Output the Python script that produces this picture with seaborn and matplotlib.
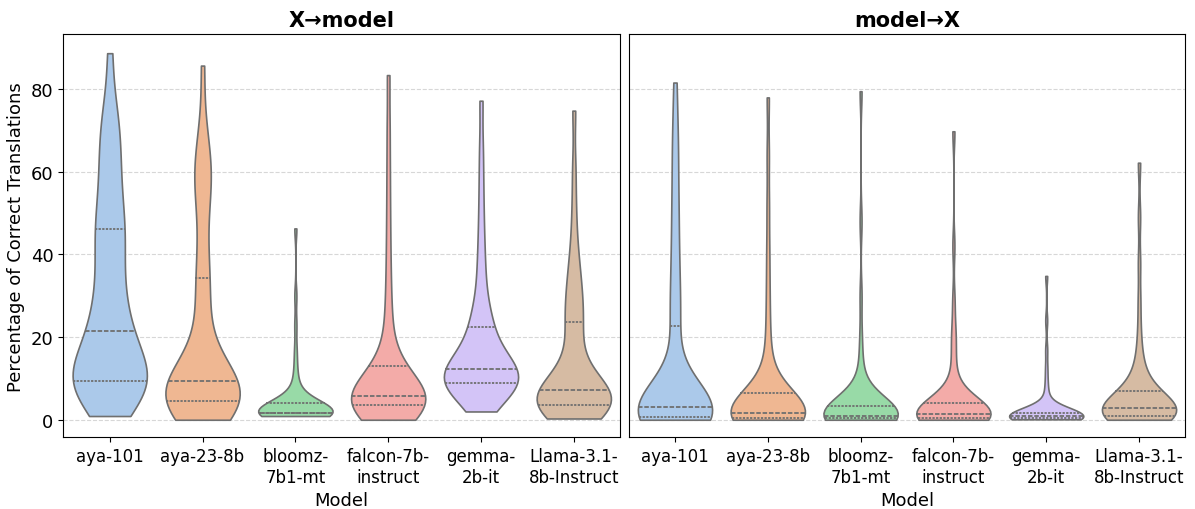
import numpy as np
import pandas as pd
import matplotlib
matplotlib.use("Agg")
import matplotlib.pyplot as plt
import seaborn as sns

# model names (as on the x axis)
models = ["aya-101", "aya-23-8b", "bloomz-7b1-mt", "falcon-7b-instruct",
          "gemma-2b-it", "Llama-3.1-8b-Instruct"]
tick_labels = ["aya-101", "aya-23-8b", "bloomz-\n7b1-mt", "falcon-7b-\ninstruct",
               "gemma-\n2b-it", "Llama-3.1-\n8b-Instruct"]

# % correct translations per language, X -> model direction
x2m_aya101 = [0.9, 2.5, 4, 5, 6, 6.8, 7.4, 8, 8.5, 8.9, 9.1, 9.3,
              9.5, 10.2, 11, 11.8, 12.7, 13.7, 14.8, 16, 17.3, 18.6, 20, 21,
              22, 24, 26, 28, 30, 32, 34.5, 37, 39.5, 42, 44, 46,
              47, 49.5, 52, 55, 58, 61, 64, 67, 70, 73, 77, 88.7]
x2m_aya23 = [0, 0.5, 1, 1.5, 2, 2.5, 3, 3.5, 3.8, 4, 4.2, 4.3, 4.5, 5, 5.5, 6, 6.5, 7,
             7.5, 8, 8.5, 9, 9.2, 9.3, 9.5, 10, 11, 12, 13.5, 15, 17, 20, 23, 27, 31,
             34, 35, 40, 45, 50, 54, 57, 59, 61, 63, 66, 72, 85.7]
x2m_bloomz = [0.9, 1.0, 1.1, 1.15, 1.2, 1.25, 1.3, 1.35, 1.4, 1.42, 1.45, 1.48, 1.52,
              1.55, 1.57, 1.6, 1.62, 1.64, 1.66, 1.68, 1.69, 1.7, 1.7, 1.7, 1.72, 1.8,
              2, 2.2, 2.4, 2.6, 2.8, 3, 3.3, 3.6, 3.85, 3.95, 4.05, 4.5, 5, 5.6, 6.5,
              8, 10, 13, 17, 23, 30, 46.3]
x2m_falcon = [0, 0.5, 1, 1.5, 2, 2.3, 2.6, 2.9, 3.1, 3.2, 3.3, 3.4, 3.6, 3.8, 4, 4.2,
              4.4, 4.6, 4.8, 5, 5.2, 5.4, 5.6, 5.7, 5.8, 6, 6.5, 7, 7.5, 8, 8.5, 9, 10,
              11, 12, 13, 13.3, 15, 18.5, 22, 26, 31, 37, 44, 52, 61, 71, 83.4]
x2m_gemma = [2, 3.5, 4.5, 5.5, 6.2, 6.8, 7.2, 7.6, 8, 8.3, 8.5, 8.7, 8.9, 9.2, 9.5, 9.8,
             10.1, 10.4, 10.7, 11, 11.3, 11.6, 11.9, 12.1, 12.3, 12.7, 13.2, 13.8, 14.5,
             15.3, 16.2, 17.2, 18.5, 20, 21.5, 22.4, 22.8, 24.5, 26.5, 29, 32, 36, 40,
             45, 51, 58, 66, 77.2]
x2m_llama = [0.3, 0.8, 1.3, 1.8, 2.2, 2.6, 2.9, 3.1, 3.3, 3.4, 3.5, 3.55, 3.65, 3.8,
             4.1, 4.4, 4.8, 5.2, 5.6, 6, 6.4, 6.8, 7.1, 7.2, 7.4, 7.8, 8.3, 9, 10, 11,
             12.5, 14, 16, 18.5, 21, 23.5, 24, 26, 28, 30, 32, 34, 37, 40, 45, 52, 61, 74.8]

# model -> X direction
m2x_aya101 = [0, 0, 0.1, 0.2, 0.3, 0.3, 0.4, 0.4, 0.5, 0.5, 0.6, 0.6, 0.6, 0.8, 1, 1.2,
              1.5, 1.8, 2, 2.3, 2.6, 2.8, 3, 3.1, 3.2, 3.5, 4, 4.5, 5, 5.5, 6.5, 7.5, 9,
              11, 14, 22.5, 23.5, 27, 31, 35, 39, 44, 49, 54, 60, 66, 72, 81.6]
m2x_aya23 = [0, 0, 0.1, 0.1, 0.2, 0.2, 0.3, 0.3, 0.4, 0.4, 0.5, 0.5, 0.5, 0.6, 0.8, 0.9,
             1, 1.1, 1.2, 1.3, 1.4, 1.5, 1.6, 1.7, 1.8, 2, 2.3, 2.6, 3, 3.4, 3.8, 4.2,
             4.7, 5.2, 5.8, 6.4, 6.7, 8, 10, 12.5, 16, 21, 27, 34, 42, 52, 64, 78]
m2x_bloomz = [0, 0, 0, 0.05, 0.1, 0.1, 0.15, 0.2, 0.2, 0.25, 0.3, 0.3, 0.3, 0.4, 0.5,
              0.55, 0.6, 0.7, 0.75, 0.8, 0.85, 0.9, 0.95, 1, 1, 1.1, 1.2, 1.4, 1.6, 1.8,
              2, 2.2, 2.5, 2.8, 3.1, 3.3, 3.4, 3.8, 4.3, 5, 6, 7.5, 10, 14, 20, 30, 48, 79.5]
m2x_falcon = [0, 0, 0, 0.05, 0.1, 0.1, 0.15, 0.2, 0.2, 0.25, 0.3, 0.3, 0.3, 0.4, 0.5,
              0.6, 0.7, 0.8, 0.9, 1, 1.1, 1.2, 1.25, 1.3, 1.35, 1.5, 1.7, 1.9, 2.1, 2.4,
              2.7, 3, 3.3, 3.6, 3.9, 4.05, 4.2, 4.8, 5.5, 6.5, 8, 11, 15, 19, 22, 29, 42, 69.8]
m2x_gemma = [0.1, 0.15, 0.2, 0.25, 0.3, 0.32, 0.35, 0.38, 0.4, 0.42, 0.44, 0.45, 0.46,
             0.5, 0.53, 0.56, 0.6, 0.63, 0.66, 0.7, 0.73, 0.76, 0.78, 0.8, 0.82, 0.86,
             0.9, 0.95, 1, 1.05, 1.1, 1.2, 1.3, 1.45, 1.6, 1.68, 1.75, 2, 2.3, 2.7, 3.2,
             4.5, 6.5, 9, 12.5, 17, 24, 34.8]
m2x_llama = [0, 0.1, 0.2, 0.3, 0.4, 0.5, 0.6, 0.7, 0.8, 0.9, 0.95, 1, 1, 1.1, 1.3, 1.5,
             1.7, 1.9, 2.1, 2.3, 2.4, 2.5, 2.6, 2.7, 2.75, 2.9, 3.2, 3.5, 3.8, 4.1, 4.5,
             5, 5.5, 6, 6.5, 6.9, 7.1, 8, 9, 10.5, 12, 14, 17, 22, 29, 38, 49, 62.2]

x2m = [x2m_aya101, x2m_aya23, x2m_bloomz, x2m_falcon, x2m_gemma, x2m_llama]
m2x = [m2x_aya101, m2x_aya23, m2x_bloomz, m2x_falcon, m2x_gemma, m2x_llama]


def to_long(lists):
    rows = []
    for m, vals in zip(models, lists):
        for v in vals:
            rows.append({"Model": m, "score": v})
    return pd.DataFrame(rows)


df_x2m = to_long(x2m)
df_m2x = to_long(m2x)

fig, axes = plt.subplots(1, 2, figsize=(11.95, 5.1), dpi=100, sharey=True)
pal = sns.color_palette("pastel", 6)

for ax, df, title in [(axes[0], df_x2m, "X→model"), (axes[1], df_m2x, "model→X")]:
    sns.violinplot(data=df, x="Model", y="score", hue="Model", palette=pal,
                   inner="quart", cut=0, density_norm="width", bw_adjust=0.65,
                   linewidth=1.2, inner_kws=dict(linewidth=1.3),
                   legend=False, ax=ax)
    ax.set_title(title, fontsize=15, fontweight="bold")
    ax.set_xlabel("Model", fontsize=13)
    ax.set_xticks(range(len(models)))
    ax.set_xticklabels(tick_labels, fontsize=12)
    ax.tick_params(axis="y", labelsize=13)
    ax.yaxis.grid(True, linestyle="--", alpha=0.5)
    ax.set_axisbelow(True)

axes[0].set_ylabel("Percentage of Correct Translations", fontsize=13)
axes[1].set_ylabel("")
axes[1].tick_params(axis="y", left=False)
axes[0].set_ylim(-4.2, 93.3)

plt.subplots_adjust(left=0.053, right=0.992, top=0.931, bottom=0.141, wspace=0.015)
plt.savefig("out.png")
